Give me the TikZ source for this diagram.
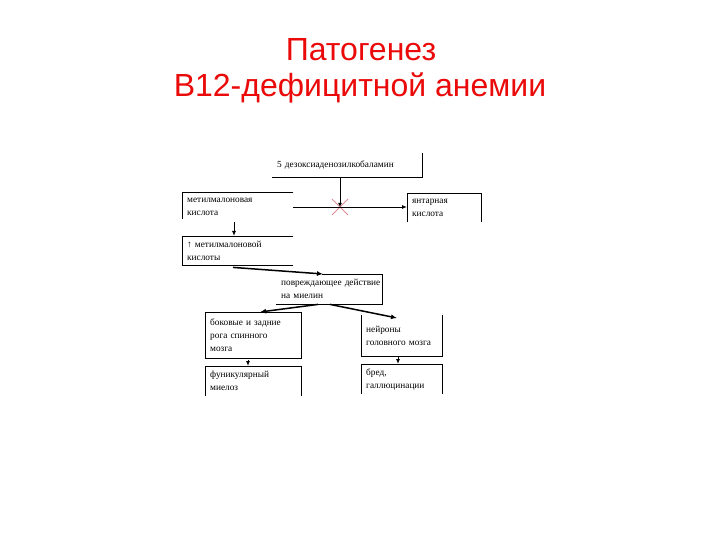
\documentclass[tikz,border=0pt]{standalone}
\usepackage{fontspec}
\setmainfont{Liberation Serif}
\newfontfamily\titlefont{Liberation Sans}
\usetikzlibrary{arrows.meta}
\definecolor{titlered}{RGB}{235,10,10}
\definecolor{crossred}{RGB}{225,140,150}
\begin{document}
\begin{tikzpicture}[x=1pt,y=-1pt,
  box/.style={draw=none,rectangle,anchor=north west,inner xsep=5pt,inner ysep=0pt,
    align=left,font=\fontsize{9.3}{13}\selectfont},
  edge/.style={line width=0.8pt},
  conn/.style={line width=0.9pt,-{Latex[length=5pt,width=4pt]}},
  thick conn/.style={line width=1.5pt,-{Latex[length=6pt,width=5pt]}},
  title/.style={font=\titlefont\fontsize{32}{36}\selectfont,text=titlered}]
\useasboundingbox (0,0) rectangle (720,540);
\fill[white] (0,0) rectangle (720,540);
% title
\node[title] (t1) at (361,50) {Патогенез};
\node[title] (t2) at (360,88) {В12-дефицитной анемии};
% boxes
\node[box,minimum width=150pt,minimum height=24pt,text width=140pt] (A) at (272,153) {\mbox{5 дезоксиаденозилкобаламин}};
\node[box,minimum width=111pt,minimum height=30pt,text width=101pt] (B) at (182,192) {метилмалоновая\\кислота};
\node[box,minimum width=74pt,minimum height=29pt,text width=64pt] (C) at (407,193) {янтарная\\кислота};
\node[box,minimum width=111pt,minimum height=30pt,text width=101pt] (D) at (182,236) {↑ метилмалоновой\\кислоты};
\node[box,minimum width=106pt,minimum height=30pt,text width=96pt] (E) at (276,274) {\mbox{повреждающее действие}\\на миелин};
\node[box,minimum width=96pt,minimum height=47pt,text width=86pt] (F) at (205,312) {\mbox{боковые и задние}\\рога спинного\\мозга};
\node[box,minimum width=96pt,minimum height=30pt,text width=86pt] (G) at (205,366) {\mbox{фуникулярный}\\миелоз};
\node[box,minimum width=81pt,minimum height=41pt,text width=71pt] (H) at (361,315) {нейроны\\\mbox{головного мозга}};
\node[box,minimum width=81pt,minimum height=30pt,text width=71pt] (I) at (361,364) {бред,\\\mbox{галлюцинации}};
% partial borders
\draw[edge] (A.north east) -- (A.south east) -- (A.south west);
\draw[edge] (B.north east) -- (B.north west) -- ([yshift=3pt]B.south west);
\draw[edge] (C.south west) -- (C.north west) -- (C.north east) -- (C.south east);
\draw[edge] (D.north east) -- (D.north west) -- ([yshift=1pt]D.south west) -- ([yshift=1pt]D.south east);
\draw[edge] ([xshift=46pt]E.north west) -- (E.north east) -- (E.south east) -- (E.south west);
\draw[edge] (F.north west) rectangle ([yshift=1pt]F.south east);
\draw[edge] (G.south west) -- (G.north west) -- (G.north east) -- (G.south east);
\draw[edge] (H.north west) -- (H.south west) -- (H.south east) -- (H.north east);
\draw[edge] (I.south west) -- (I.north west) -- (I.north east) -- (I.south east);
% cross mark
\coordinate (xc) at (340,207);
\draw[crossred,line width=0.9pt] ([shift={(-8pt,-8pt)}]xc) -- ([shift={(8pt,8pt)}]xc);
\draw[crossred,line width=0.9pt] ([shift={(-8pt,8pt)}]xc) -- ([shift={(8pt,-8pt)}]xc);
% connectors
\draw[conn,-{Latex[length=4pt,width=4pt]},draw=black] (A.south west -| xc) -- (xc);
\draw[conn] (B.east |- xc) -- (C.west |- xc);
\draw[conn] ([xshift=52pt]B.south west) -- ([xshift=52pt]D.north west);
\draw[thick conn] ([xshift=51pt,yshift=-1pt]D.south west) -- ([xshift=47pt]E.north west);
\draw[thick conn] ([xshift=42pt]E.south west) -- ([xshift=55pt]F.north west);
\draw[thick conn] ([xshift=54pt]E.south west) -- ([xshift=36pt,yshift=-3pt]H.north west);
\draw[conn] ([xshift=43pt,yshift=-1pt]F.south west) -- ([xshift=43pt]G.north west);
\draw[conn] ([xshift=37pt]H.south west) -- ([xshift=37pt]I.north west);
\end{tikzpicture}
\end{document}
